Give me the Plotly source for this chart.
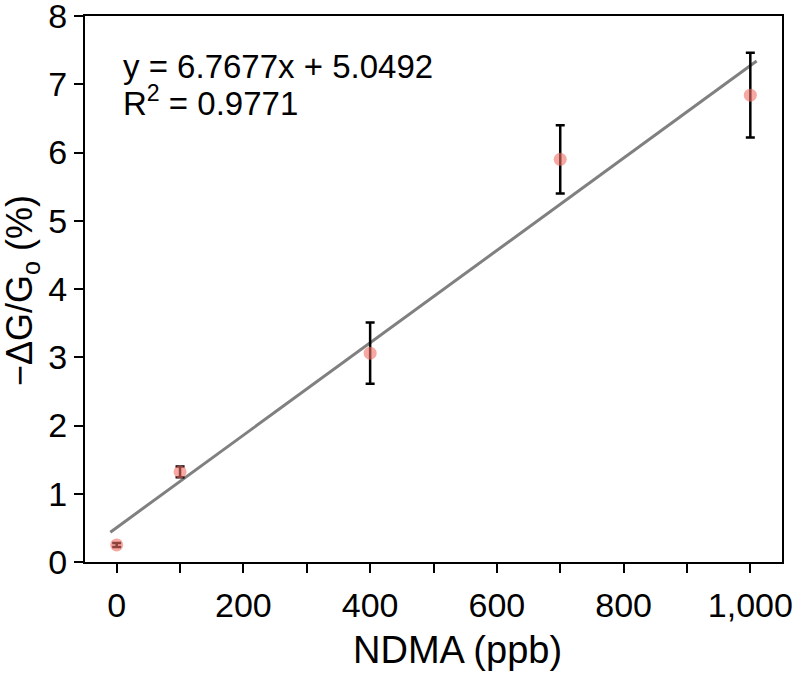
import plotly.graph_objects as go

# Data
ndma = [0, 100, 400, 700, 1000]
response = [0.25, 1.32, 3.06, 5.90, 6.84]
err = [0.03, 0.08, 0.45, 0.50, 0.62]

fit_x = [-10, 1010]
fit_y = [0.437, 7.340]

x_tickvals = [0, 200, 400, 600, 800, 1000]
x_ticktext = ["0", "200", "400", "600", "800", "1,000"]
x_minorvals = [100, 300, 500, 700, 900]
y_tickvals = [0, 1, 2, 3, 4, 5, 6, 7, 8]

FONT = "Liberation Sans, Arial, Helvetica, sans-serif"

# plot area in page coords: x 85..782, y 16..562 (body margin removed below)
W, H = 800, 677
L, T, R, B = 85, 16, 800 - 782, 677 - 562
pw, ph = W - L - R, H - T - B


def px(xp):
    return (xp - L) / pw


def py(yp):
    return (H - B - yp) / ph


fig = go.Figure()
fig.add_trace(go.Scatter(
    x=fit_x, y=fit_y, mode="lines",
    line=dict(color="#808080", width=3),
    showlegend=False, hoverinfo="skip",
))
fig.add_trace(go.Scatter(
    x=ndma, y=response, mode="markers",
    marker=dict(size=13, color="rgba(240,110,100,0.6)", line=dict(width=0)),
    error_y=dict(type="data", array=err, visible=True, color="black", thickness=2.5, width=4.5),
    showlegend=False,
))

fig.update_layout(
    width=W, height=H,
    margin=dict(l=L, r=R, t=T, b=B, autoexpand=False),
    paper_bgcolor="white", plot_bgcolor="white",
    font=dict(family=FONT, color="black"),
    xaxis=dict(
        range=[-50, 1050], tickmode="array", tickvals=x_tickvals, ticktext=x_ticktext,
        ticks="outside", ticklen=9, tickwidth=2, tickcolor="black",
        minor=dict(tickvals=x_minorvals, ticks="outside", ticklen=9, tickwidth=2, tickcolor="black"),
        showline=True, linecolor="black", linewidth=2, mirror=True,
        showgrid=False, zeroline=False, ticklabelstandoff=3,
        ticklabeloverflow="allow",
        tickfont=dict(size=34, family=FONT),
    ),
    yaxis=dict(
        range=[0, 8], tickmode="array", tickvals=y_tickvals,
        ticks="outside", ticklen=9, tickwidth=2, tickcolor="black",
        showline=True, linecolor="black", linewidth=2, mirror=True,
        showgrid=False, zeroline=False,
        ticklabeloverflow="allow",
        tickfont=dict(size=34, family=FONT),
    ),
    annotations=[
        dict(text="NDMA (ppb)", xref="paper", yref="paper", x=px(457), y=py(650),
             showarrow=False, font=dict(size=38, family=FONT), xanchor="center", yanchor="middle"),
        dict(text="−ΔG/G<sub>o</sub> (%)", xref="paper", yref="paper", x=px(22), y=py(291),
             textangle=-90, showarrow=False, font=dict(size=36, family=FONT),
             xanchor="center", yanchor="middle"),
        dict(text="y = 6.7677x + 5.0492", xref="paper", yref="paper", x=px(121), y=py(66),
             showarrow=False, font=dict(size=33, family=FONT), xanchor="left", yanchor="middle"),
        dict(text="R<sup>2</sup> = 0.9771", xref="paper", yref="paper", x=px(121), y=py(101),
             showarrow=False, font=dict(size=33, family=FONT), xanchor="left", yanchor="middle"),
    ],
)

fig.write_html(
    "out.html",
    config={"displayModeBar": False},
    post_script="document.body.style.margin='0px';document.body.style.overflow='hidden';",
)
